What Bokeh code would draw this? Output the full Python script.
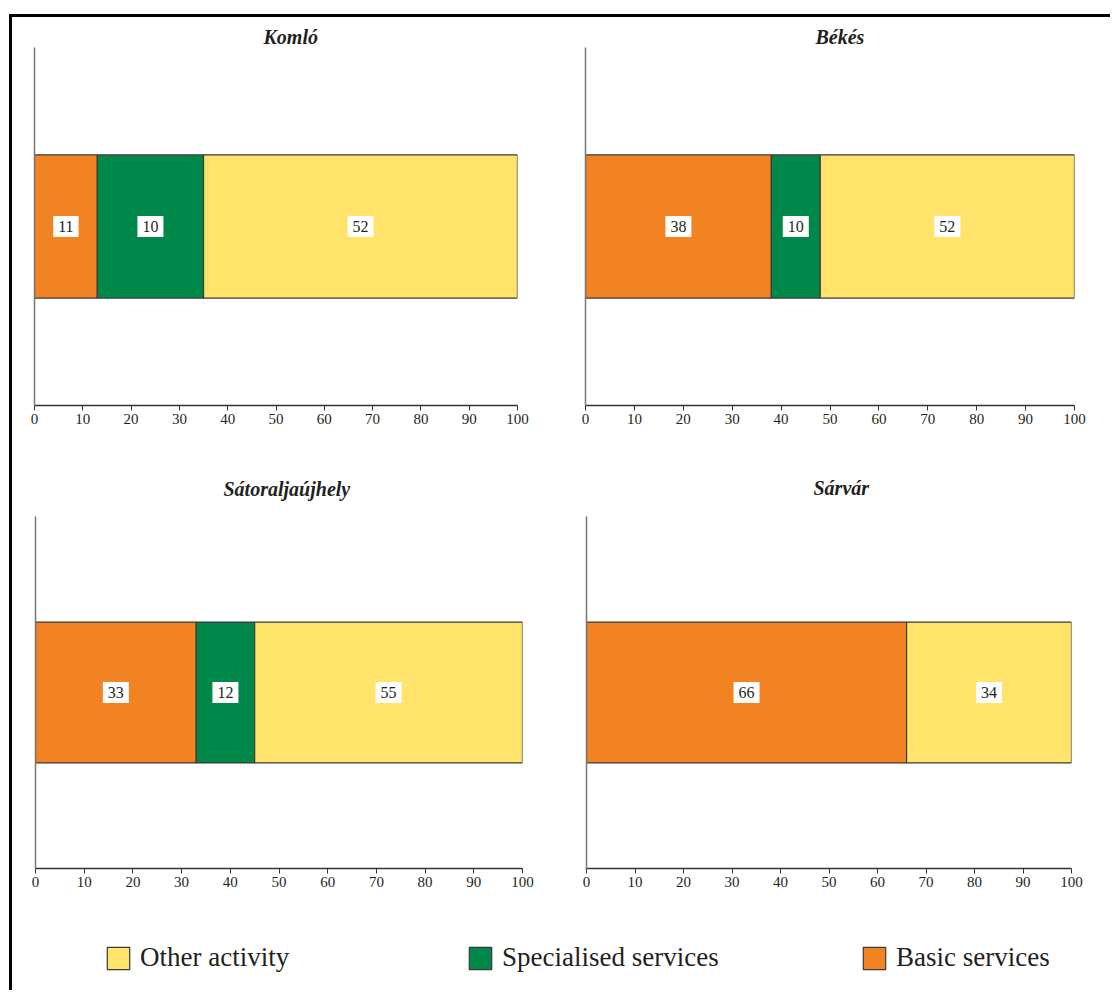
from bokeh.plotting import figure
from bokeh.models import ColumnDataSource, Div, Spacer, Legend, LegendItem, FixedTicker, Range1d
from bokeh.layouts import row, column
from bokeh.embed import file_html
from bokeh.resources import INLINE
from bokeh.core.properties import value

# ---- data ----
cities = ["Komló", "Békés", "Sátoraljaújhely", "Sárvár"]
# drawn segment widths (percent of axis)
basic_width = [13, 38, 33, 66]
special_width = [22, 10, 12, 0]
other_width = [65, 52, 55, 34]
# printed labels
basic_label = ["11", "38", "33", "66"]
special_label = ["10", "10", "12", ""]
other_label = ["52", "52", "55", "34"]
x_ticks = [0, 10, 20, 30, 40, 50, 60, 70, 80, 90, 100]
series_names = ["Other activity", "Specialised services", "Basic services"]

ORANGE = "#F28322"
GREEN = "#00874A"
YELLOW = "#FFE36A"
OUTLINE = "#3a3a3a"
SERIF = "Liberation Serif"

# panel geometry: (width, height, border_left, border_right, border_top, border_bottom, title_offset, title_standoff)
geom = [
    (548, 437, 22, 43, 30, 49, 229, 0),
    (544, 437, 25, 30, 30, 49, 230, 0),
    (548, 451, 23, 38, 62, 37, 188, 34),
    (544, 451, 26, 33, 62, 37, 227, 36),
]


def panel(i):
    w, h, bl, br, bt, bb, toff, tst = geom[i]
    p = figure(width=w, height=h, output_backend="svg", toolbar_location=None,
               x_range=Range1d(0, 100), y_range=Range1d(0, 1),
               min_border_left=bl, min_border_right=br,
               min_border_top=bt, min_border_bottom=bb,
               title=cities[i], margin=0)
    p.title.text_font = SERIF
    p.title.text_font_style = "bold italic"
    p.title.text_font_size = "20px"
    p.title.text_color = "#231f20"
    p.title.align = "left"
    p.title.offset = toff
    p.title.standoff = tst
    p.outline_line_color = None
    p.grid.visible = False
    p.background_fill_color = "white"
    p.border_fill_color = "white"

    b = basic_width[i]
    s = special_width[i]
    o = other_width[i]
    lefts = [0, b, b + s]
    rights = [b, b + s, b + s + o]
    colors = [ORANGE, GREEN, YELLOW]
    labels = [basic_label[i], special_label[i], other_label[i]]
    keep = [k for k in range(3) if rights[k] > lefts[k]]
    src = ColumnDataSource(dict(
        left=[lefts[k] for k in keep],
        right=[rights[k] for k in keep],
        y=[0.5] * len(keep),
        color=[colors[k] for k in keep],
        mid=[(lefts[k] + rights[k]) / 2 for k in keep],
        label=[labels[k] for k in keep],
    ))
    p.hbar(y="y", left="left", right="right", height=0.4, fill_color="color",
           line_color=OUTLINE, line_width=1.2, source=src)
    p.text(x="mid", y="y", text="label", source=src, text_align="center",
           text_baseline="middle", text_font=value(SERIF), text_font_size="16px",
           text_color="#231f20", background_fill_color="white", padding=5)

    p.xaxis.ticker = FixedTicker(ticks=x_ticks)
    p.xaxis.axis_line_color = "#333333"
    p.xaxis.axis_line_width = 1.5
    p.xaxis.major_tick_line_color = "#333333"
    p.xaxis.major_tick_in = 0
    p.xaxis.major_tick_out = 5
    p.xaxis.minor_tick_line_color = None
    p.xaxis.major_label_standoff = 3
    p.xaxis.major_label_text_font = SERIF
    p.xaxis.major_label_text_font_size = "15px"
    p.xaxis.major_label_text_color = "#231f20"

    p.yaxis.ticker = FixedTicker(ticks=[])
    p.yaxis.axis_line_color = "#777777"
    p.yaxis.axis_line_width = 1.5
    p.yaxis.major_tick_line_color = None
    p.yaxis.minor_tick_line_color = None
    p.yaxis.major_label_text_font_size = "0px"
    p.yaxis.major_label_standoff = 0
    return p


panels = [panel(i) for i in range(4)]

# ---- legend strip ----
lg = figure(width=1092, height=79, output_backend="svg", toolbar_location=None,
            x_range=Range1d(0, 1), y_range=Range1d(0, 1),
            min_border=0, margin=0)
lg.axis.visible = False
lg.grid.visible = False
lg.outline_line_color = None
lg.border_fill_color = "white"
series_colors = [YELLOW, GREEN, ORANGE]
leg_x = [92, 454, 848]
for name, col, lx in zip(series_names, series_colors, leg_x):
    # legend-only renderer: its point lies outside the visible range
    r = lg.rect(x=[5], y=[5], width=0.1, height=0.1, fill_color=col,
                line_color=OUTLINE, line_width=1.2)
    leg = Legend(items=[LegendItem(label=name, renderers=[r])], location=(lx, 11),
                 orientation="horizontal", padding=0, margin=0,
                 border_line_alpha=0, background_fill_alpha=0,
                 glyph_width=28, glyph_height=28, label_height=28,
                 label_standoff=8, label_text_font=SERIF,
                 label_text_font_size="27px", label_text_color="#231f20",
                 label_text_baseline="middle")
    lg.add_layout(leg)

content = column(row(panels[0], panels[1], margin=0, spacing=0),
                 row(panels[2], panels[3], margin=0, spacing=0),
                 lg, margin=0, spacing=0)

top_line = Div(width=1101, height=3, margin=0, styles={"background-color": "black"})
left_line = Div(width=3, height=973, margin=0, styles={"background-color": "black"})

layout = column(
    Spacer(height=14, width=10, margin=0),
    row(Spacer(width=9, height=3, margin=0), top_line, margin=0, spacing=0),
    row(Spacer(width=9, height=973, margin=0), left_line, content, margin=0, spacing=0),
    margin=0, spacing=0,
)

open("out.html", "w").write(file_html(layout, INLINE))
